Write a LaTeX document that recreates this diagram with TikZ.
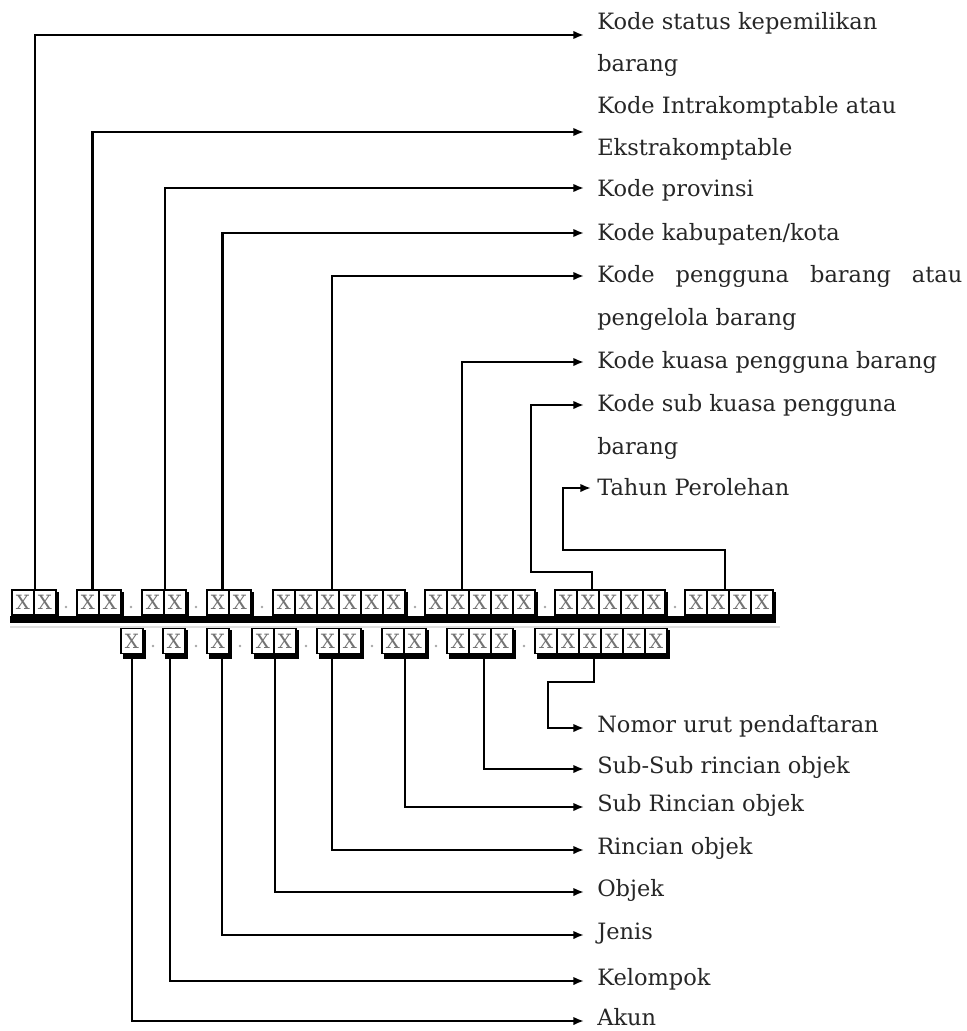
\documentclass[tikz,border=0pt]{standalone}
\usepackage{fontspec}
\setmainfont{DejaVu Serif}
\usetikzlibrary{arrows.meta}
\tikzset{
  xbox/.style={draw=black, line width=0.8pt, fill=white, minimum width=0.55cm,
    minimum height=0.625cm, inner sep=0pt, text=black!55, font=\fontsize{14}{14}\selectfont},
  lbl/.style={anchor=base west, inner sep=0pt, text=black!85, font=\fontsize{16}{18}\selectfont},
  conn/.style={line width=1.5pt, -{Latex[length=7.5pt,width=6pt]}},
}
\begin{document}
\begin{tikzpicture}[x=0.025cm, y=-0.025cm]
\useasboundingbox (0,0) rectangle (966,1031);
% faint rule and thick bar
\draw [gray!25, line width=0.8pt] (10,627)--(780,627);
\fill (10,616) rectangle (776,623);
% upper code: groups of boxes
\foreach \g/\x/\n in {1/12/2, 2/77/2, 3/142/2, 4/207/2, 5/273/6, 6/425/5, 7/555/5, 8/685/4}{
  \fill (\x+2,592) rectangle (\x+\n*22+3,619);
  \foreach \i in {1,...,\n}
    \node[xbox] (t\g-\i) at (\x+\i*22-11,602.5) {X};
}
% lower code
\foreach \g/\x/\n in {1/121/1, 2/163/1, 3/207/1, 4/252/2, 5/317/2, 6/382/2, 7/447/3, 8/535/6}{
  \fill (\x+2,630) rectangle (\x+\n*22+3,658.5);
  \foreach \i in {1,...,\n}
    \node[xbox] (b\g-\i) at (\x+\i*22-11,641) {X};
}
% dots between groups
\foreach \x in {66,131,196,262,415,545,675}
  \fill [gray!70] (\x,607) circle (1.3);
\foreach \x in {153,196,240,306,372,436,524}
  \fill [gray!70] (\x,646) circle (1.3);

% labels
\node[lbl] (status)  at (597,30)  {Kode status kepemilikan};
\node[lbl] (statusb) at (597,72)  {barang};
\node[lbl] (intra)   at (597,114) {Kode Intrakomptable atau};
\node[lbl] (intrab)  at (597,156) {Ekstrakomptable};
\node[lbl] (prov)    at (597,197) {Kode provinsi};
\node[lbl] (kab)     at (597,240) {Kode kabupaten/kota};
\node[lbl] (pengguna)  at (597,282) {\makebox[9.125cm][s]{Kode pengguna barang atau}};
\node[lbl] (penggunab) at (597,325) {pengelola barang};
\node[lbl] (kuasa)   at (597,368) {Kode kuasa pengguna barang};
\node[lbl] (subkuasa)  at (597,411) {Kode sub kuasa pengguna};
\node[lbl] (subkuasab) at (597,454) {barang};
\node[lbl] (tahun)   at (597,495) {Tahun Perolehan};

\node[lbl] (nomor)    at (597,732)  {Nomor urut pendaftaran};
\node[lbl] (subsub)   at (597,773)  {Sub-Sub rincian objek};
\node[lbl] (subrinci) at (597,811)  {Sub Rincian objek};
\node[lbl] (rinci)    at (597,854)  {Rincian objek};
\node[lbl] (objek)    at (597,896)  {Objek};
\node[lbl] (jenis)    at (597,939)  {Jenis};
\node[lbl] (kelompok) at (597,985)  {Kelompok};
\node[lbl] (akun)     at (597,1025) {Akun};

% arrow ends and bends
\coordinate (aStatus) at (584,35);
\coordinate (aIntra) at (584,132);
\coordinate (aProv) at (584,188);
\coordinate (aKab) at (584,233);
\coordinate (aPengguna) at (584,276);
\coordinate (aKuasa) at (584,362);
\coordinate (bSub) at (531,572);
\coordinate (aSub) at (584,405);
\coordinate (bTahun) at (563,550);
\coordinate (aTahun) at (591,488);
\coordinate (bNomor) at (548,682);
\coordinate (aNomor) at (584,728);
\coordinate (aSubsub) at (584,769);
\coordinate (aSubrinci) at (584,807);
\coordinate (aRinci) at (584,850);
\coordinate (aObjek) at (584,892);
\coordinate (aJenis) at (584,935);
\coordinate (aKelompok) at (584,981);
\coordinate (aAkun) at (584,1021);

% upper connectors
\draw [conn] (t1-1.north east) |- (aStatus);
\draw [conn] ([xshift=-5pt]t2-1.north east) |- (aIntra);
\draw [conn] (t3-1.north east) |- (aProv);
\draw [conn] ([xshift=-5pt]t4-1.north east) |- (aKab);
\draw [conn] ([xshift=3pt]t5-3.north) |- (aPengguna);
\draw [conn] ([xshift=3pt]t6-2.north) |- (aKuasa);
\draw [conn] ([xshift=3pt]t7-2.north) |- (bSub) |- (aSub);
\draw [conn] ([xshift=5pt]t8-2.north) |- (bTahun) |- (aTahun);
% lower connectors
\draw [conn] ([xshift=3pt]b8-3.south) |- (bNomor) |- (aNomor);
\draw [conn] ([xshift=3pt]b7-2.south) |- (aSubsub);
\draw [conn] (b6-1.south east) |- (aSubrinci);
\draw [conn] ([xshift=3pt]b5-1.south) |- (aRinci);
\draw [conn] (b4-1.south east) |- (aObjek);
\draw [conn] ([xshift=3pt]b3-1.south) |- (aJenis);
\draw [conn] ([xshift=-3pt]b2-1.south) |- (aKelompok);
\draw [conn] (b1-1.south) |- (aAkun);
\end{tikzpicture}
\end{document}
